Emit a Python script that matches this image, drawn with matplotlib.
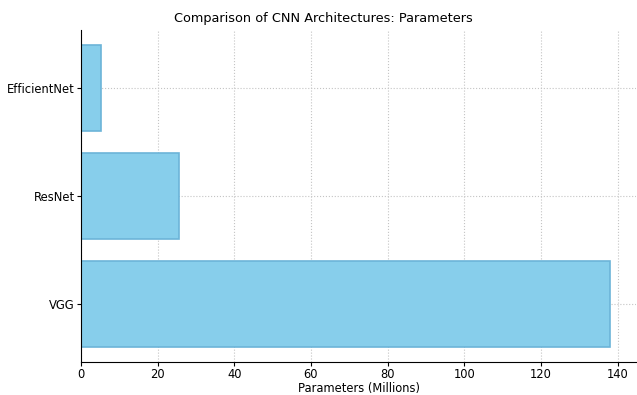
import matplotlib
matplotlib.use("Agg")
import matplotlib.pyplot as plt

models = ["VGG", "ResNet", "EfficientNet"]
params = [138, 25.6, 5.3]

fig = plt.figure(figsize=(6.37, 3.95), dpi=100)
ax = fig.add_axes([0.127, 0.084, 0.872, 0.84])

ax.barh(models, params, color="skyblue", edgecolor="#6cb4d8", linewidth=1.2)
ax.set_xlabel("Parameters (Millions)", fontsize=8.3, labelpad=1)
fig.text(0.507, 0.953, "Comparison of CNN Architectures: Parameters",
         fontsize=9.3, ha="center", va="center")
ax.tick_params(labelsize=8.3, length=3, pad=1.5)
ax.grid(True, linestyle=":", color="#c4c4c4", linewidth=0.8)
ax.set_axisbelow(True)
ax.spines["top"].set_visible(False)
ax.spines["right"].set_visible(False)

fig.savefig("out.png", dpi=100)
